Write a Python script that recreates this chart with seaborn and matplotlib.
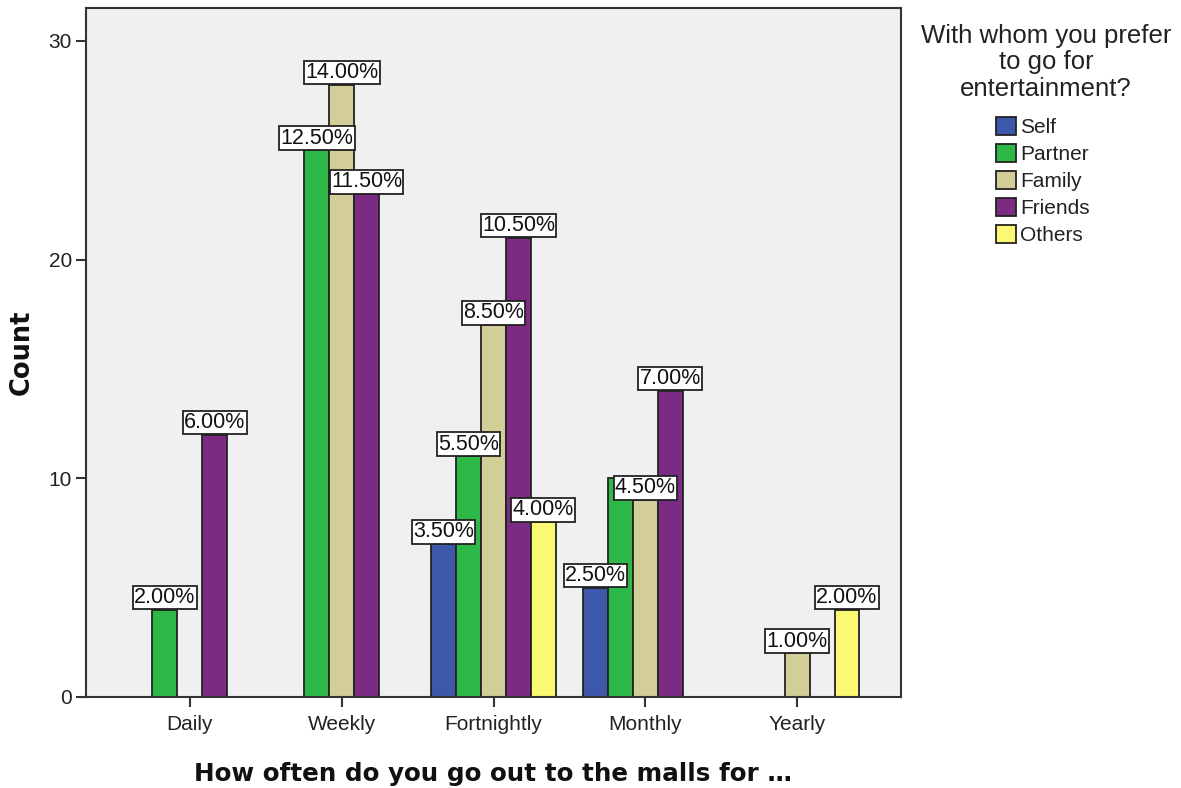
import numpy as np
import pandas as pd
import matplotlib.pyplot as plt
import seaborn as sns

# data
frequencies = ['Daily', 'Weekly', 'Fortnightly', 'Monthly', 'Yearly']
companions = ['Self', 'Partner', 'Family', 'Friends', 'Others']

freq = ['Daily', 'Daily',
        'Weekly', 'Weekly', 'Weekly',
        'Fortnightly', 'Fortnightly', 'Fortnightly', 'Fortnightly', 'Fortnightly',
        'Monthly', 'Monthly', 'Monthly', 'Monthly',
        'Yearly', 'Yearly']
who = ['Partner', 'Friends',
       'Partner', 'Family', 'Friends',
       'Self', 'Partner', 'Family', 'Friends', 'Others',
       'Self', 'Partner', 'Family', 'Friends',
       'Family', 'Others']
counts = [4, 12,
          25, 28, 23,
          7, 11, 17, 21, 8,
          5, 10, 9, 14,
          2, 4]
# percent labels as shown (Monthly/Partner label is hidden in the original)
pct_labels = ['2.00%', '6.00%',
              '12.50%', '14.00%', '11.50%',
              '3.50%', '5.50%', '8.50%', '10.50%', '4.00%',
              '2.50%', '', '4.50%', '7.00%',
              '1.00%', '2.00%']

colors = ['#3d58ab', '#2eb848', '#d3ce97', '#7b2b81', '#fbf873']

df = pd.DataFrame({'freq': freq, 'who': who, 'count': counts, 'pct': pct_labels})

sns.set_theme(style='white')
plt.rcParams['font.family'] = ['Liberation Sans', 'DejaVu Sans']

fig = plt.figure(figsize=(11.81, 7.88), dpi=100)
ax = fig.add_axes([86 / 1181, 91 / 788, 815 / 1181, 689 / 788])
ax.set_facecolor('#f0f0f0')

sns.barplot(data=df, x='freq', y='count', hue='who',
            order=frequencies, hue_order=companions,
            palette=colors, width=0.82, dodge=True,
            edgecolor='#222222', linewidth=1.3, saturation=1,
            errorbar=None, ax=ax)

# boxed percentage labels sitting on top of each bar
lookup = {(f, w): p for f, w, p in zip(freq, who, pct_labels)}
for i, cont in enumerate(ax.containers):
    labels = []
    for bar in cont:
        cat = frequencies[int(round(bar.get_x() + bar.get_width() / 2))]
        labels.append(lookup.get((cat, companions[i]), ''))
    ax.bar_label(cont, labels=labels, padding=1.2, fontsize=15.5, color='#111111',
                 bbox=dict(boxstyle='square,pad=0.06', facecolor='white',
                           edgecolor='#222222', linewidth=1.3), zorder=5)

ax.set_xlim(-0.684, 4.684)
ax.set_ylim(0, 31.5)
ax.set_yticks([0, 10, 20, 30])
ax.tick_params(axis='both', direction='out', length=7, width=1.5, color='#333333',
               labelsize=15, labelcolor='#222222', bottom=True, left=True)
ax.tick_params(axis='x', pad=6)
ax.tick_params(axis='y', pad=3)

for s in ax.spines.values():
    s.set_color('#333333')
    s.set_linewidth(1.5)

ax.set_xlabel('How often do you go out to the malls for \u2026', fontsize=17.7,
              fontweight='bold', family='DejaVu Sans', color='#111111', labelpad=20)
ax.set_ylabel('Count', fontsize=18.5, fontweight='bold', family='DejaVu Sans',
              color='#111111', labelpad=10)

# legend title as separate centred text, entries below it
fig.text(1046 / 1181, 1 - 24 / 788, 'With whom you prefer\nto go for\nentertainment?',
         ha='center', va='top', multialignment='center', fontsize=18.5,
         color='#222222', linespacing=1.12)

sns.move_legend(ax, 'upper left', bbox_to_anchor=(996 / 1181, 1 - 117 / 788),
                bbox_transform=fig.transFigure, frameon=False, title=None,
                fontsize=15, handlelength=0.95, borderpad=0, borderaxespad=0,
                handleheight=0.95, handletextpad=0.2, labelspacing=0.33)
leg = ax.get_legend()
for t in leg.get_texts():
    t.set_color('#222222')
for h in leg.legend_handles:
    h.set_edgecolor('#222222')
    h.set_linewidth(1.3)

fig.savefig('out.png', dpi=100)
